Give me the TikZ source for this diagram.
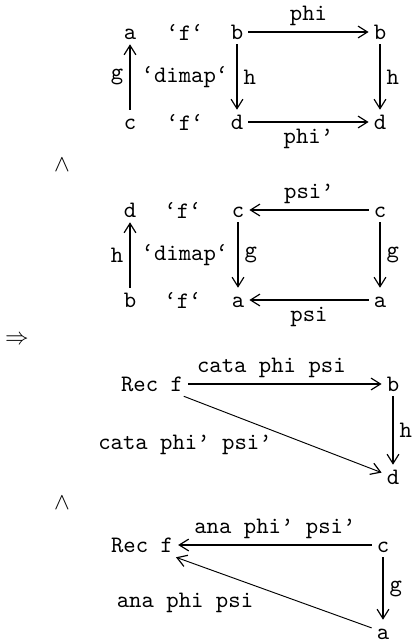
\documentclass[tikz,border=0pt]{standalone}
\usetikzlibrary{arrows.meta}
\begin{document}
\begin{tikzpicture}[x=0.4237pt,y=-0.4237pt,
  every node/.style={font=\ttfamily},
  obj/.style={inner sep=2pt,text height=6pt,text depth=0pt},
  lab/.style={inner sep=2.5pt},
  arr/.style={line width=0.7pt,-{Straight Barb[length=4pt,width=5pt,line width=0.5pt]}},
  diag/.style={line width=0.4pt,-{Straight Barb[length=4pt,width=5pt,line width=0.5pt]}}]
\useasboundingbox (0,0) rectangle (412,643);
% first square
\node[obj] (a1) at (130,32) {a};
\node (f1) at (185,32) {‘f‘};
\node[obj] (b1) at (237,32) {b};
\node[obj] (b2) at (380,32) {b};
\node[obj] (c1) at (130,122) {c};
\node (f2) at (185,122) {‘f‘};
\node[obj] (d1) at (237,122) {d};
\node[obj] (d2) at (380,122) {d};
\node (dm1) at (185,77) {‘dimap‘};
\draw[arr] (c1) -- node[lab,left]{g} (a1);
\draw[arr] (b1) -- node[lab,above]{phi} (b2);
\draw[arr] (b1) -- node[lab,right]{h} (d1);
\draw[arr] (b2) -- node[lab,right]{h} (d2);
\draw[arr] (d1) -- node[lab,below]{phi’} (d2);
% wedge
\node (w1) at (62,165) {$\wedge$};
% second square
\node[obj] (d3) at (130,210) {d};
\node (f3) at (183,210) {‘f‘};
\node[obj] (c2) at (238,210) {c};
\node[obj] (c3) at (380,210) {c};
\node[obj] (b3) at (130,300) {b};
\node (f4) at (183,300) {‘f‘};
\node[obj] (a2) at (238,300) {a};
\node[obj] (a3) at (380,300) {a};
\node (dm2) at (185,255) {‘dimap‘};
\draw[arr] (b3) -- node[lab,left]{h} (d3);
\draw[arr] (c3) -- node[lab,above]{psi’} (c2);
\draw[arr] (c2) -- node[lab,right]{g} (a2);
\draw[arr] (c3) -- node[lab,right]{g} (a3);
\draw[arr,line width=1.1pt] (a3) -- node[lab,below]{psi} (a2);
% implies
\node (imp) at (17,340) {$\Rightarrow$};
% cata triangle
\node[obj] (r1) at (152,384) {Rec f};
\node[obj] (b4) at (393,384) {b};
\node[obj] (d4) at (393,477) {d};
\draw[arr] (r1) -- node[lab,above,pos=0.43]{cata phi psi} (b4);
\draw[arr] (b4) -- node[lab,right]{h} (d4);
\draw[diag] (r1) -- (d4);
\node (l1) at (185,445) {cata phi’ psi’};
% wedge
\node (w2) at (62,503) {$\wedge$};
% ana triangle
\node[obj] (r2) at (142,545) {Rec f};
\node[obj] (c4) at (383,545) {c};
\node[obj] (a4) at (383,632) {a};
\draw[arr] (c4) -- node[lab,above]{ana phi’ psi’} (r2);
\draw[arr] (c4) -- node[lab,right]{g} (a4);
\draw[diag] (a4) -- (r2);
\node (l2) at (185,603) {ana phi psi};
\end{tikzpicture}
\end{document}
